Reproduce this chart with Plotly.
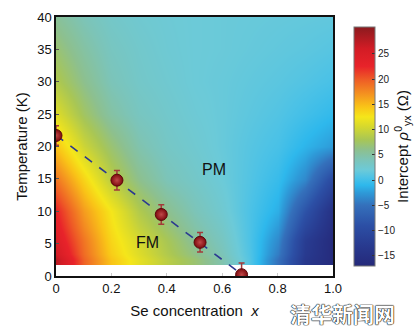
import numpy as np
import plotly.graph_objects as go

# Intercept map grid (Se concentration x, temperature T in K)
se_x = [0.0, 0.1, 0.2, 0.3, 0.4, 0.5, 0.6, 0.7, 0.8, 0.9, 1.0]
temp_k = [1.7, 5, 10, 15, 20, 25, 30, 35, 40]
# rows follow temp_k, columns follow se_x (intercept in Ohm)
intercept = [
    [27.5, 19.5, 14.5, 11.5, 9.0, 7.0, 4.5, 0.8, -5.0, -13.5, -16.5],
    [24.5, 18.5, 13.5, 10.5, 8.0, 5.5, 3.5, 0.5, -3.5, -12.5, -16.5],
    [22.5, 16.5, 12.5, 8.5, 6.0, 4.0, 2.5, 0.5, -1.5, -8.5, -15.0],
    [18.5, 13.5, 9.0, 6.0, 4.0, 3.0, 2.0, 0.8, -0.5, -3.5, -10.0],
    [14.5, 10.0, 7.0, 4.5, 3.2, 2.5, 1.8, 1.0, 0.3, -1.2, -2.5],
    [11.0, 7.5, 5.0, 3.5, 2.8, 2.2, 1.8, 1.3, 0.8, 0.0, -0.8],
    [8.5, 6.0, 4.0, 3.0, 2.5, 2.0, 1.8, 1.5, 1.2, 0.8, 0.3],
    [7.0, 5.0, 3.5, 2.8, 2.3, 2.0, 1.9, 1.7, 1.5, 1.3, 1.0],
    [5.5, 4.0, 3.0, 2.5, 2.2, 2.0, 1.9, 1.8, 1.7, 1.6, 1.5],
]

# Curie temperature points
tc_x = [0.0, 0.22, 0.38, 0.52, 0.67]
tc_t = [21.7, 14.8, 9.5, 5.2, 0.2]
tc_err = [1.5, 1.5, 1.5, 1.5, 1.8]

x_ticks = [0, 0.2, 0.4, 0.6, 0.8, 1.0]
x_tick_text = ["0", "0.2", "0.4", "0.6", "0.8", "1.0"]
cb_ticks = [-15, -10, -5, 0, 5, 10, 15, 20, 25]

zmin, zmax = -17.0, 30.3
stops = [
    (-17.0, "#25297a"), (-13.0, "#283a8f"), (-9.0, "#2c4fa5"), (-5.0, "#3470bb"),
    (-2.5, "#2e9ad8"), (-1.0, "#2eb8ec"), (0.5, "#4cc2e6"), (2.0, "#6ccad8"),
    (4.0, "#7cc4b8"), (6.0, "#8dc08e"), (8.0, "#a8c655"), (10.5, "#d5d82e"),
    (12.5, "#f5e61a"), (14.5, "#f9c417"), (17.0, "#f49320"), (20.0, "#ee5a26"),
    (22.5, "#e8232a"), (26.0, "#d31c25"), (30.3, "#8b1a1e"),
]
colorscale = [[(v - zmin) / (zmax - zmin), c] for v, c in stops]

# cell edges in T so the map starts exactly at the lowest measured temperature
t = np.array(temp_k)
t_edges = np.concatenate([[t[0]], (t[:-1] + t[1:]) / 2, [t[-1] + (t[-1] - t[-2]) / 2]])

fig = go.Figure()

fig.add_trace(go.Heatmap(
    x=se_x, y=t_edges, z=intercept, zsmooth="best",
    zmin=zmin, zmax=zmax, colorscale=colorscale,
    colorbar=dict(
        x=1.04, xanchor="left", y=0.5, yanchor="middle", len=1.0, lenmode="fraction",
        thickness=21, outlinewidth=1, outlinecolor="#777",
        tickvals=cb_ticks, ticks="inside", ticklen=3, tickcolor="#333",
        tickfont=dict(size=10, family="Liberation Sans, Arial", color="#222"),
        title=dict(text="Intercept <i>ρ</i><sup>0</sup><sub>yx</sub> (Ω)", side="right",
                   font=dict(size=15, family="Liberation Sans, Arial", color="#111")),
    ),
    showscale=True, hoverinfo="skip",
))

# linear guide through the transition points
slope, icpt = np.polyfit(tc_x, tc_t, 1)
x_end = -icpt / slope
fig.add_trace(go.Scatter(
    x=[0.0, x_end], y=[icpt, 0.0], mode="lines",
    line=dict(color="#2b3990", width=1.6, dash="dash"),
    hoverinfo="skip", showlegend=False,
))

fig.add_trace(go.Scatter(
    x=tc_x, y=tc_t, mode="markers",
    marker=dict(size=12, color="#7d0a0e", line=dict(color="#5a080a", width=1),
                gradient=dict(type="radial", color="#c04848")),
    error_y=dict(type="data", array=tc_err, color="#a33a3a", thickness=1.5, width=3),
    showlegend=False, cliponaxis=True,
))

label_font = dict(size=16, family="Liberation Sans, Arial", color="#111")
fig.add_annotation(x=0.57, y=16.4, text="PM", showarrow=False, font=label_font)
fig.add_annotation(x=0.33, y=5.1, text="FM", showarrow=False, font=label_font)

fig.add_annotation(
    xref="paper", yref="paper", x=1.035, y=-0.143, xanchor="center", yanchor="middle",
    text="<b>清华新闻网</b>", showarrow=False,
    font=dict(size=21, family="Noto Sans CJK SC", color="white",
              shadow="0 0 1px #000, 0 0 1px #000, 0 0 1px #000"),
)

axis_font = dict(size=13, family="Liberation Sans, Arial", color="#111")
fig.update_xaxes(
    range=[0, 1.0], tickvals=x_ticks, ticktext=x_tick_text,
    ticks="inside", ticklen=3, tickcolor="#ccc", showgrid=False, zeroline=False,
    showline=True, linecolor="#111", linewidth=1.5, mirror=True,
    tickfont=axis_font,
    title=dict(text="Se concentration  <i>x</i>", font=dict(size=15, family="Liberation Sans, Arial", color="#111"),
               standoff=10),
)
fig.update_yaxes(
    range=[0, 40], dtick=5, ticks="inside", ticklen=3, tickcolor="#555",
    showgrid=False, zeroline=False,
    showline=True, linecolor="#111", linewidth=1.5, mirror=True,
    tickfont=axis_font,
    title=dict(text="Temperature (K)", font=dict(size=15, family="Liberation Sans, Arial", color="#111"),
               standoff=6),
)

fig.update_layout(
    width=415, height=333,
    margin=dict(l=56, r=82, t=17, b=57, autoexpand=False),
    paper_bgcolor="white", plot_bgcolor="white",
    showlegend=False,
)

fig.write_html("out.html")
